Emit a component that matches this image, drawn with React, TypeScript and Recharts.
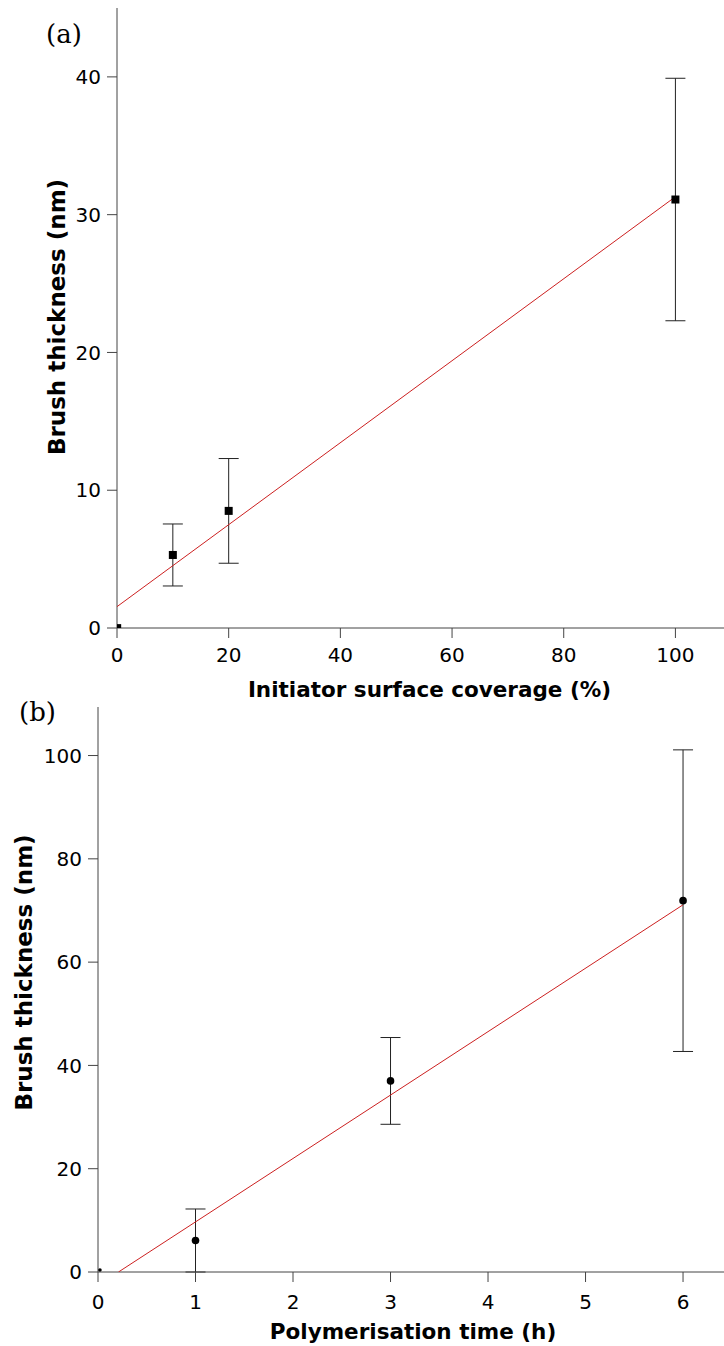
import React from 'react';
import { ComposedChart, Scatter, ErrorBar, XAxis, YAxis, Label } from 'recharts';

// (a) brush thickness vs initiator surface coverage
const coverage = [0.3, 10, 20, 100];
const thicknessA = [0.1, 5.3, 8.5, 31.1];
const errorA = [0, 2.25, 3.8, 8.8];
const fitCoverage = [0, 100];
const fitThicknessA = [1.55, 31.3];
const xTicksA = [0, 20, 40, 60, 80, 100];
const yTicksA = [0, 10, 20, 30, 40];

// (b) brush thickness vs polymerisation time
const time = [0.02, 1, 3, 6];
const thicknessB = [0.4, 6.1, 37.0, 71.9];
const errorB = [0, 6.1, 8.4, 29.2];
const fitTime = [0.21, 6];
const fitThicknessB = [0, 71.1];
const xTicksB = [0, 1, 2, 3, 4, 5, 6];
const yTicksB = [0, 20, 40, 60, 80, 100];

const pointsA = coverage.map((x, i) => ({ x, y: thicknessA[i], err: errorA[i] }));
const fitA = fitCoverage.map((x, i) => ({ x, y: fitThicknessA[i] }));
const pointsB = time.map((x, i) => ({ x, y: thicknessB[i], err: errorB[i] }));
const fitB = fitTime.map((x, i) => ({ x, y: fitThicknessB[i] }));

const AXIS = '#444';
const FIT = '#cc2020';
const tickStyle = { fill: '#000', fontSize: 20, fontFamily: 'DejaVu Sans' };
const titleFont = { fontFamily: 'DejaVu Sans', fontWeight: 'bold' as const, fill: '#000' };

const square = (s: number) => (p: any) => (
  <rect x={p.cx - s / 2} y={p.cy - s / 2} width={s} height={s} fill="#000" />
);
const dot = (r: number) => (p: any) => <circle cx={p.cx} cy={p.cy} r={r} fill="#000" />;
const noShape = () => <g />;

// axis titles, placed from the axis viewBox
const xTitle = (text: string, dx: number, up: number) => (props: any) => {
  const vb = props.viewBox || { x: 0, y: 0, width: 0, height: 0 };
  return (
    <text x={vb.x + vb.width / 2 + dx} y={vb.y + vb.height - up} textAnchor="middle" fontSize={21.5} {...titleFont}>
      {text}
    </text>
  );
};
const yTitle = (text: string, cx: number, dy: number) => (props: any) => {
  const vb = props.viewBox || { x: 0, y: 0, width: 0, height: 0 };
  const cy = vb.y + vb.height / 2 + dy;
  return (
    <text
      x={cx}
      y={cy}
      dy="0.36em"
      transform={`rotate(-90, ${cx}, ${cy})`}
      textAnchor="middle"
      fontSize={23}
      {...titleFont}
    >
      {text}
    </text>
  );
};

export default function App() {
  return (
    <div style={{ position: 'absolute', left: 0, top: 0, width: 724, height: 1346, background: '#fff' }}>
      <svg width={724} height={1346} style={{ position: 'absolute', left: 0, top: 0 }}>
        <text x={46} y={43} fontFamily="DejaVu Serif" fontSize={26} fill="#000">(a)</text>
        <text x={19} y={721} fontFamily="DejaVu Serif" fontSize={26} fill="#000">(b)</text>
      </svg>

      <div style={{ position: 'absolute', left: 0, top: 0 }}>
        <ComposedChart width={724} height={712} margin={{ top: 8, right: 0, bottom: 0, left: 0 }}>
          <XAxis
            type="number"
            dataKey="x"
            domain={[0, 108.7]}
            ticks={xTicksA}
            interval={0}
            allowDataOverflow
            height={84}
            tickSize={10}
            tickMargin={10}
            stroke={AXIS}
            tick={tickStyle}
          >
            <Label content={xTitle('Initiator surface coverage (%)', 9, 15)} />
          </XAxis>
          <YAxis
            type="number"
            dataKey="y"
            domain={[0, 45]}
            ticks={yTicksA}
            interval={0}
            allowDataOverflow
            width={117}
            tickSize={10}
            tickMargin={6}
            stroke={AXIS}
            tick={tickStyle}
          >
            <Label content={yTitle('Brush thickness (nm)', 57, -1)} />
          </YAxis>
          <Scatter
            data={fitA}
            dataKey="y"
            fill={FIT}
            stroke={FIT}
            line={{ stroke: FIT, strokeWidth: 1 }}
            shape={noShape}
            isAnimationActive={false}
          />
          <Scatter data={pointsA.filter((p) => p.err > 0)} dataKey="y" shape={square(8)} isAnimationActive={false}>
            <ErrorBar dataKey="err" direction="y" width={10} stroke="#222" strokeWidth={1} isAnimationActive={false} />
          </Scatter>
          <Scatter data={pointsA.filter((p) => p.err === 0)} dataKey="y" shape={square(5)} isAnimationActive={false} />
        </ComposedChart>
      </div>

      <div style={{ position: 'absolute', left: 0, top: 700 }}>
        <ComposedChart width={724} height={646} margin={{ top: 7, right: 0, bottom: 0, left: 0 }}>
          <XAxis
            type="number"
            dataKey="x"
            domain={[0, 6.42]}
            ticks={xTicksB}
            interval={0}
            allowDataOverflow
            height={74}
            tickSize={10}
            tickMargin={13}
            stroke={AXIS}
            tick={tickStyle}
          >
            <Label content={xTitle('Polymerisation time (h)', 2, 7)} />
          </XAxis>
          <YAxis
            type="number"
            dataKey="y"
            domain={[0, 109.4]}
            ticks={yTicksB}
            interval={0}
            allowDataOverflow
            width={98}
            tickSize={10}
            tickMargin={6}
            stroke={AXIS}
            tick={tickStyle}
          >
            <Label content={yTitle('Brush thickness (nm)', 24, -17)} />
          </YAxis>
          <Scatter
            data={fitB}
            dataKey="y"
            fill={FIT}
            stroke={FIT}
            line={{ stroke: FIT, strokeWidth: 1 }}
            shape={noShape}
            isAnimationActive={false}
          />
          <Scatter data={pointsB.filter((p) => p.err > 0)} dataKey="y" shape={dot(3.8)} isAnimationActive={false}>
            <ErrorBar dataKey="err" direction="y" width={10} stroke="#222" strokeWidth={1} isAnimationActive={false} />
          </Scatter>
          <Scatter data={pointsB.filter((p) => p.err === 0)} dataKey="y" shape={dot(1.8)} isAnimationActive={false} />
        </ComposedChart>
      </div>
    </div>
  );
}
